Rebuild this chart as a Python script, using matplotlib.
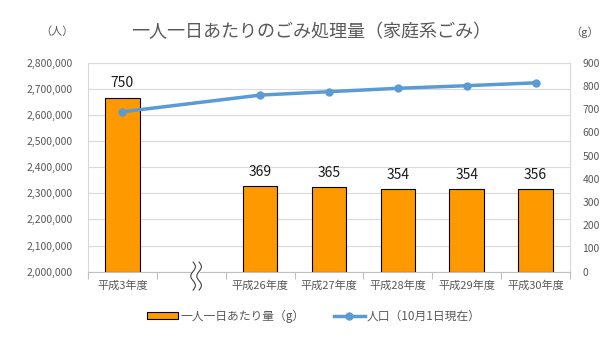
import numpy as np
import matplotlib
matplotlib.use('Agg')
import matplotlib.pyplot as plt
from matplotlib.transforms import blended_transform_factory

plt.rcParams['font.family'] = ['Noto Sans CJK JP', 'DejaVu Sans']

# data (slot 1 is the break between 平成3年度 and 平成26年度)
categories = ['平成3年度', '', '平成26年度', '平成27年度', '平成28年度', '平成29年度', '平成30年度']
waste_g = [750, np.nan, 369, 365, 354, 354, 356]
population = [2612000, np.nan, 2676000, 2689000, 2702000, 2712000, 2723000]
gap_index = 1

title = '一人一日あたりのごみ処理量（家庭系ごみ）'
bar_label = '一人一日あたり量（g）'
line_label = '人口（10月1日現在）'

GRAY = '#595959'
ORANGE = '#FF9900'
BLUE = '#5B9BD5'

x = np.arange(len(categories))
waste = np.array(waste_g, dtype=float)
pop = np.array(population, dtype=float)
ok = ~np.isnan(pop)

fig = plt.figure(figsize=(6.1, 3.39), dpi=100)
ax = fig.add_axes([88/610, 1-271.7/339, 482/610, 209/339])
ax_bar = ax.twinx()
ax_line = ax.twinx()

# grid + left scale
ax.set_ylim(2000000, 2800000)
ax.set_yticks(np.arange(2000000, 2800001, 100000))
ax.set_yticklabels([f'{v:,}' for v in range(2000000, 2800001, 100000)])
ax.yaxis.grid(True, color='#D9D9D9', lw=0.8)
ax.set_axisbelow(True)
ax.tick_params(axis='y', length=0, pad=11, labelsize=7.5, labelcolor=GRAY)
ax.set_xlim(-0.5, len(categories) - 0.5)
ax.set_xticks(x)
ax.set_xticklabels(categories)
ax.set_xticks(np.arange(-0.5, len(categories), 1), minor=True)
ax.tick_params(axis='x', which='major', length=0, pad=6, labelsize=8, labelcolor=GRAY)
ax.tick_params(axis='x', which='minor', length=5, color='#BFBFBF', width=0.8)
for s in ax.spines.values():
    s.set_color('#D9D9D9')
    s.set_linewidth(0.8)
ax.spines['bottom'].set_color('#BFBFBF')

# bars on right scale
bars = ax_bar.bar(x[ok], waste[ok], width=0.5, color=ORANGE, edgecolor='black', lw=0.8,
                  label=bar_label)
ax_bar.set_ylim(0, 900)
ax_bar.set_yticks(np.arange(0, 901, 100))
ax_bar.tick_params(axis='y', length=0, pad=9, labelsize=7.5, labelcolor=GRAY)
for xi, v in zip(x[ok], waste[ok]):
    ax_bar.text(xi, v + 62, f'{v:.0f}', ha='center', va='center', fontsize=10, color='#1a1a1a')
for s in ax_bar.spines.values():
    s.set_visible(False)

# population line on the same scale as the grid
line, = ax_line.plot(x[ok], pop[ok], color=BLUE, lw=2.5, marker='o', ms=5,
                     label=line_label)
ax_line.set_ylim(ax.get_ylim())
ax_line.set_yticks([])
for s in ax_line.spines.values():
    s.set_visible(False)

# axis break mark
pxd = (len(categories)) / 482
t = np.linspace(0, 1, 80)
yy = -0.088 + t * 0.134
wave = 2.3 * np.sin(t * 3 * np.pi)
xc = gap_index + 0.07
x1 = xc + (-3 + wave) * pxd
x2 = xc + (3 + wave) * pxd
trans = blended_transform_factory(ax_line.transData, ax_line.transAxes)
ax_line.fill_betweenx(yy, x1, x2, color='white', transform=trans, clip_on=False, zorder=5)
ax_line.plot(x1, yy, color='#404040', lw=0.8, transform=trans, clip_on=False, zorder=6)
ax_line.plot(x2, yy, color='#404040', lw=0.8, transform=trans, clip_on=False, zorder=6)

fig.text(311/610, 1-32/339, title, ha='center', va='center', fontsize=13, color=GRAY)
fig.text(57/610, 1-32/339, '（人）', ha='center', va='center', fontsize=8, color=GRAY)
fig.text(585/610, 1-32/339, '（g）', ha='center', va='center', fontsize=8, color=GRAY)

fig.legend(handles=[bars, line], labels=[bar_label, line_label], loc='center',
           bbox_to_anchor=(314/610, 1-316/339), ncol=2, frameon=False, fontsize=8.5,
           labelcolor=GRAY, handlelength=2.6, handleheight=0.6, columnspacing=2.5,
           handletextpad=0.2)

fig.savefig('out.png', dpi=100)
